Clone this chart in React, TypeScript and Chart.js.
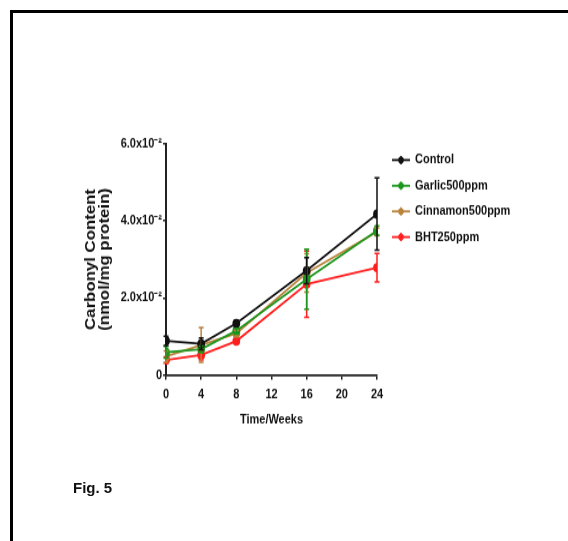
import React, { useEffect, useRef } from 'react';
import { Chart, registerables } from 'chart.js';

Chart.register(...registerables);

const weeks = [0, 4, 8, 16, 24];
const seriesNames = ['Control', 'Garlic500ppm', 'Cinnamon500ppm', 'BHT250ppm'];
const seriesColors = ['#111111', '#1c951c', '#b8843c', '#ff1f1f'];

const controlValues = [0.0089, 0.0081, 0.0134, 0.0271, 0.0418];
const controlErrors = [0.0012, 0.0015, 0.0008, 0.0034, 0.0094];
const garlicValues = [0.0059, 0.0067, 0.0115, 0.0249, 0.0375];
const garlicErrors = [0.0015, 0.0008, 0.0008, 0.0078, 0.0012];
const cinnamonValues = [0.0048, 0.0078, 0.0108, 0.0265, 0.0372];
const cinnamonErrors = [0.0015, 0.0045, 0.0008, 0.0050, 0.0010];
const bhtValues = [0.0039, 0.0052, 0.0088, 0.0236, 0.0279];
const bhtErrors = [0.0008, 0.0013, 0.0006, 0.0086, 0.0037];

const xTickValues = [0, 4, 8, 12, 16, 20, 24];
const yTickValues = [0, 0.02, 0.04, 0.06];
const yTickLabels = ['0', '2.0x10⁻²', '4.0x10⁻²', '6.0x10⁻²'];
const yTitleLines = ['Carbonyl Content', '(nmol/mg protein)'];
const xTitle = 'Time/Weeks';
const figCaption = 'Fig. 5';

const SANS = "'Liberation Sans', Arial, sans-serif";

// The source figure is stretched vertically; the chart canvas is drawn
// short and stretched back with a CSS transform.
const PAGE_W = 568;
const PAGE_H = 541;
const CANVAS_H = 451;
const STRETCH = PAGE_H / CANVAS_H;

const allValues = [controlValues, garlicValues, cinnamonValues, bhtValues];
const allErrors = [controlErrors, garlicErrors, cinnamonErrors, bhtErrors];

const errorBarPlugin = {
  id: 'errorBars',
  afterDatasetsDraw(chart: any) {
    const { ctx, scales } = chart;
    const xs = scales.x;
    const ys = scales.y;
    const n = chart.data.datasets.length;
    for (let d = n - 1; d >= 0; d--) {
      const ds = chart.data.datasets[d];
      const errs: number[] = ds.errors;
      ctx.save();
      ctx.strokeStyle = ds.borderColor;
      ctx.lineWidth = 1.5;
      ds.data.forEach((pt: any, i: number) => {
        const px = xs.getPixelForValue(pt.x);
        const top = ys.getPixelForValue(pt.y + errs[i]);
        const bot = ys.getPixelForValue(pt.y - errs[i]);
        ctx.beginPath();
        ctx.moveTo(px, top);
        ctx.lineTo(px, bot);
        ctx.moveTo(px - 2.5, top);
        ctx.lineTo(px + 2.5, top);
        ctx.moveTo(px - 2.5, bot);
        ctx.lineTo(px + 2.5, bot);
        ctx.stroke();
      });
      ctx.restore();
    }
  },
};

const sideLegendPlugin = {
  id: 'sideLegend',
  afterDraw(chart: any) {
    const { ctx, chartArea } = chart;
    const x0 = chartArea.right + 15;
    const y0 = chartArea.top + 13.4;
    chart.data.datasets.forEach((ds: any, i: number) => {
      const cy = y0 + i * 21.4;
      ctx.save();
      ctx.strokeStyle = ds.borderColor;
      ctx.fillStyle = ds.borderColor;
      ctx.lineWidth = 1.8;
      ctx.beginPath();
      ctx.moveTo(x0, cy);
      ctx.lineTo(x0 + 18, cy);
      ctx.stroke();
      ctx.lineWidth = 1.5;
      ctx.beginPath();
      ctx.moveTo(x0 + 9, cy - 3.5);
      ctx.lineTo(x0 + 9, cy + 3.5);
      ctx.stroke();
      ctx.beginPath();
      ctx.arc(x0 + 9, cy, 2.8, 0, Math.PI * 2);
      ctx.fill();
      ctx.fillStyle = '#111';
      ctx.font = `bold 11px ${SANS}`;
      ctx.textBaseline = 'middle';
      ctx.textAlign = 'left';
      ctx.fillText(ds.label, x0 + 23, cy);
      ctx.restore();
    });
  },
};

function ChartView() {
  const ref = useRef<HTMLCanvasElement | null>(null);
  useEffect(() => {
    if (!ref.current) return;
    const datasets = seriesNames.map((name, s) => ({
      label: name,
      data: weeks.map((w, i) => ({ x: w, y: allValues[s][i] })),
      errors: allErrors[s],
      borderColor: seriesColors[s],
      backgroundColor: seriesColors[s],
      borderWidth: 1.8,
      pointRadius: 3,
      pointHoverRadius: 3,
      pointStyle: 'circle',
      tension: 0,
      fill: false,
    }));
    const chart = new Chart(ref.current, {
      type: 'line',
      data: { datasets } as any,
      options: {
        animation: false,
        responsive: false,
        maintainAspectRatio: false,
        devicePixelRatio: 1,
        layout: { padding: { left: 84, top: 120, right: 191, bottom: 94.4 } },
        plugins: { legend: { display: false }, tooltip: { enabled: false } },
        scales: {
          x: {
            type: 'linear',
            min: 0,
            max: 24,
            afterFit: (scale: any) => { scale.height = 44; },
            afterBuildTicks: (scale: any) => { scale.ticks = xTickValues.map((v) => ({ value: v })); },
            ticks: {
              color: '#111',
              font: { family: SANS, size: 11, weight: 'bold' },
              padding: 6,
              maxRotation: 0,
              autoSkip: false,
            },
            grid: { display: true, drawOnChartArea: false, drawTicks: true, tickLength: 4, color: '#222', lineWidth: 1.5 },
            border: { display: true, color: '#222', width: 1.8 },
            title: {
              display: true,
              text: xTitle,
              color: '#111',
              font: { family: SANS, size: 11, weight: 'bold' },
              padding: { top: 0, bottom: 0 },
            },
          },
          y: {
            type: 'linear',
            min: 0,
            max: 0.06,
            afterFit: (scale: any) => { scale.width = 82; },
            afterBuildTicks: (scale: any) => { scale.ticks = yTickValues.map((v) => ({ value: v })); },
            ticks: {
              color: '#111',
              font: { family: SANS, size: 11, weight: 'bold' },
              padding: 1,
              autoSkip: false,
              callback: (value: any) => {
                const idx = yTickValues.findIndex((t) => Math.abs(t - Number(value)) < 1e-9);
                return idx >= 0 ? yTickLabels[idx] : '';
              },
            },
            grid: { display: true, drawOnChartArea: false, drawTicks: true, tickLength: 3, color: '#222', lineWidth: 1.5 },
            border: { display: true, color: '#222', width: 2 },
            title: {
              display: true,
              text: yTitleLines,
              color: '#111',
              font: { family: SANS, size: 14, weight: 'bold', lineHeight: 1.0 },
              padding: { top: 0, bottom: 0 },
            },
          },
        },
      },
      plugins: [errorBarPlugin, sideLegendPlugin],
    } as any);
    return () => chart.destroy();
  }, []);
  return (
    <canvas
      ref={ref}
      width={PAGE_W}
      height={CANVAS_H}
      style={{
        position: 'absolute',
        left: 0,
        top: 0,
        width: PAGE_W,
        height: CANVAS_H,
        transformOrigin: '0 0',
        transform: `scaleY(${STRETCH})`,
      }}
    />
  );
}

export default function App() {
  return (
    <div style={{ position: 'fixed', left: 0, top: 0, width: PAGE_W, height: PAGE_H, overflow: 'hidden', background: '#fff' }}>
      <div style={{ position: 'absolute', left: 10, top: 10, width: 700, height: 700, border: '3px solid #000', boxSizing: 'border-box' }} />
      <ChartView />
      <div style={{ position: 'absolute', left: 73, top: 479, fontFamily: SANS, fontWeight: 'bold', fontSize: 15, lineHeight: '18px', color: '#111' }}>
        {figCaption}
      </div>
    </div>
  );
}
